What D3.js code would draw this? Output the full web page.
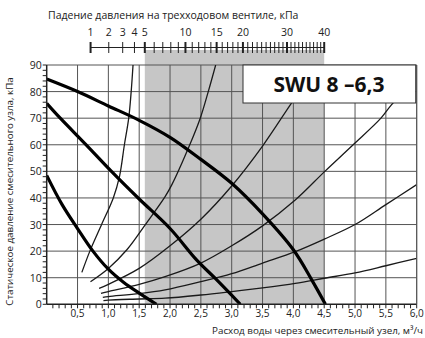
<!DOCTYPE html>
<html>
<head>
<meta charset="utf-8">
<script src="https://cdn.jsdelivr.net/npm/d3@7"></script>
<style>
  body { margin: 0; background: #fff; }
  svg { display: block; font-family: "Open Sans", sans-serif; }
</style>
</head>
<body>
<svg width="425" height="338"></svg>
<script>
const svg = d3.select("svg");

// ---- data ----
const flowTicks = [0.5, 1.0, 1.5, 2.0, 2.5, 3.0, 3.5, 4.0, 4.5, 5.0, 5.5, 6.0];
const pressureTicks = [0, 10, 20, 30, 40, 50, 60, 70, 80, 90];
const valveLabels = [1, 2, 3, 4, 5, 10, 15, 20, 30, 40];
const valveMajor = [1, 5, 10, 15, 20, 30, 40];
const valveZone = [5, 40];

// pump curves (thick)
const pumpHigh = [[0, 84.7], [0.5, 80], [1.0, 74.6], [1.5, 69.2], [2.0, 62.8], [2.5, 54.5], [3.0, 45.5], [3.5, 34], [4.0, 20.5], [4.3, 9.1], [4.52, 0]];
const pumpMid = [[0, 75.6], [0.22, 70], [0.64, 60], [1.05, 50], [1.5, 39.6], [2.0, 28.5], [2.43, 16.7], [2.73, 9.8], [3.14, 0]];
const pumpLow = [[0, 48.5], [0.25, 37.5], [0.5, 28.5], [0.75, 20], [1.0, 13.2], [1.25, 8.2], [1.5, 4.2], [1.78, 0]];

// system curves (thin)
const sysA = [[0.57, 12], [0.7, 20], [0.89, 30], [1.08, 40], [1.18, 48], [1.26, 60], [1.33, 70], [1.37, 80], [1.40, 90]];
const sysB = [[0.71, 8.5], [1.0, 13.5], [1.3, 20.5], [1.6, 30], [1.92, 40.5], [2.03, 45], [2.32, 60], [2.49, 70], [2.62, 80], [2.74, 90]];
const sysC = [[0.85, 6], [1.0, 7.5], [1.5, 13.5], [2.0, 22], [2.5, 32], [3.0, 44.5], [3.5, 59.5], [3.95, 75], [4.1, 80]];
const sysD = [[0.88, 4.1], [1.0, 4.8], [1.5, 7.5], [1.92, 10.4], [2.5, 15.5], [3.0, 22], [3.5, 29.5], [4.03, 39.2], [4.51, 50], [4.97, 60], [5.42, 70], [5.59, 75], [5.8, 80]];
const sysE = [[0.91, 2.6], [1.0, 2.9], [1.5, 4], [1.92, 5.4], [2.5, 8.5], [3.0, 11.5], [3.5, 15.5], [4.03, 19.8], [4.5, 24.5], [5.0, 30], [5.5, 37.5], [6.0, 45]];
const sysF = [[0.92, 1.4], [1.0, 1.6], [1.5, 2], [1.92, 2.3], [2.5, 3.5], [3.0, 4.8], [3.5, 6.2], [4.03, 7.9], [4.5, 9.8], [5.0, 11.8], [5.5, 14.5], [6.0, 17.3]];

const pumps = [pumpHigh, pumpMid, pumpLow];
const systems = [sysA, sysB, sysC, sysD, sysE, sysF];

/* ---------- scales ---------- */
const x = d3.scaleLinear().domain([0, 6]).range([46.7, 416.7]);
const y = d3.scaleLinear().domain([0, 90]).range([304.3, 65]);
// top scale: valve pressure drop, square-root spacing
const xv = d3.scalePow().exponent(0.5).domain([0, 40]).range([x(0), x(4.5)]);

const fmt = d => d3.format(".1f")(d).replace(".", ",");

/* ---------- valve zone ---------- */
svg.append("rect")
    .attr("x", xv(valveZone[0]))
    .attr("y", 50)
    .attr("width", xv(valveZone[1]) - xv(valveZone[0]))
    .attr("height", y(0) - 50)
    .attr("fill", "#c6c6c6");

/* ---------- grid ---------- */
svg.append("g")
    .selectAll("line")
    .data(flowTicks)
    .join("line")
    .attr("x1", d => x(d)).attr("x2", d => x(d))
    .attr("y1", y(0)).attr("y2", y(90))
    .attr("stroke", "#555").attr("stroke-width", 1);

svg.append("g")
    .selectAll("line")
    .data(pressureTicks.slice(1))
    .join("line")
    .attr("x1", x(0)).attr("x2", x(6))
    .attr("y1", d => y(d)).attr("y2", d => y(d))
    .attr("stroke", "#555").attr("stroke-width", 1);

/* ---------- curves ---------- */
const defs = svg.append("defs");
defs.append("clipPath").attr("id", "plot")
    .append("rect")
    .attr("x", x(0)).attr("y", y(90))
    .attr("width", x(6) - x(0)).attr("height", y(0) - y(90));

const line = d3.line()
    .x(d => x(d[0]))
    .y(d => y(d[1]))
    .curve(d3.curveCatmullRom.alpha(0.5));

const curves = svg.append("g").attr("clip-path", "url(#plot)");

curves.selectAll(".sys")
    .data(systems)
    .join("path")
    .attr("class", "sys")
    .attr("d", line)
    .attr("fill", "none")
    .attr("stroke", "#1a1a1a")
    .attr("stroke-width", 1.3);

curves.selectAll(".pump")
    .data(pumps)
    .join("path")
    .attr("class", "pump")
    .attr("d", line)
    .attr("fill", "none")
    .attr("stroke", "#000")
    .attr("stroke-width", 3.2);

/* ---------- axes ---------- */
const minorX = d3.range(1, 61).map(i => i / 10);
svg.append("g")
    .selectAll("line")
    .data(minorX)
    .join("line")
    .attr("x1", d => x(d)).attr("x2", d => x(d))
    .attr("y1", y(0)).attr("y2", y(0) + 4)
    .attr("stroke", "#222").attr("stroke-width", 1);

const minorY = d3.range(0, 91, 2);
svg.append("g")
    .selectAll("line")
    .data(minorY)
    .join("line")
    .attr("x1", x(0) - 4).attr("x2", x(0))
    .attr("y1", d => y(d)).attr("y2", d => y(d))
    .attr("stroke", "#222").attr("stroke-width", 1);

// frame
svg.append("line").attr("x1", x(0)).attr("x2", x(6)).attr("y1", y(0)).attr("y2", y(0))
    .attr("stroke", "#222").attr("stroke-width", 1.5);
svg.append("line").attr("x1", x(0)).attr("x2", x(0)).attr("y1", y(0)).attr("y2", y(90))
    .attr("stroke", "#222").attr("stroke-width", 1.5);
svg.append("line").attr("x1", x(6)).attr("x2", x(6)).attr("y1", y(0)).attr("y2", y(90))
    .attr("stroke", "#555").attr("stroke-width", 1);

svg.append("g")
    .selectAll("text")
    .data(flowTicks)
    .join("text")
    .attr("x", d => x(d))
    .attr("y", y(0) + 13)
    .attr("text-anchor", "middle")
    .attr("font-size", 10)
    .attr("fill", "#222")
    .text(fmt);

svg.append("g")
    .selectAll("text")
    .data(pressureTicks)
    .join("text")
    .attr("x", x(0) - 5)
    .attr("y", d => y(d) + 4)
    .attr("text-anchor", "end")
    .attr("font-size", 10.5)
    .attr("fill", "#222")
    .text(d => d);

svg.append("text")
    .attr("x", 423)
    .attr("y", 334)
    .attr("text-anchor", "end")
    .attr("font-size", 9.8)
    .attr("fill", "#222")
    .text("Расход воды через смесительный узел, м³/ч");

svg.append("text")
    .attr("transform", `translate(13, 191.5) rotate(-90)`)
    .attr("text-anchor", "middle")
    .attr("font-size", 9.8)
    .attr("fill", "#222")
    .text("Статическое давление смесительного узла, кПа");

/* ---------- top valve scale ---------- */
svg.append("text")
    .attr("x", 48)
    .attr("y", 19)
    .attr("font-size", 10.5)
    .attr("fill", "#222")
    .text("Падение давления на трехходовом вентиле, кПа");

svg.append("line")
    .attr("x1", xv(1)).attr("x2", xv(40))
    .attr("y1", 47.5).attr("y2", 47.5)
    .attr("stroke", "#222").attr("stroke-width", 1);

const valveTicks = d3.range(1, 41);
svg.append("g")
    .selectAll("line")
    .data(valveTicks)
    .join("line")
    .attr("x1", d => xv(d)).attr("x2", d => xv(d))
    .attr("y1", 42).attr("y2", 53)
    .attr("stroke", "#222")
    .attr("stroke-width", d => valveMajor.includes(d) ? 2 : 1);

svg.append("g")
    .selectAll("text")
    .data(valveLabels)
    .join("text")
    .attr("x", d => xv(d))
    .attr("y", 36)
    .attr("text-anchor", "middle")
    .attr("font-size", 10.5)
    .attr("fill", "#222")
    .text(d => d);

/* ---------- title box ---------- */
svg.append("rect")
    .attr("x", 243).attr("y", 65)
    .attr("width", x(6) - 243 - 1).attr("height", 38)
    .attr("fill", "#fff")
    .attr("stroke", "#333").attr("stroke-width", 1);

svg.append("text")
    .attr("x", 329)
    .attr("y", 92)
    .attr("text-anchor", "middle")
    .attr("font-size", 21)
    .attr("font-weight", 700)
    .attr("fill", "#111")
    .text("SWU 8 –6,3");
</script>
</body>
</html>
